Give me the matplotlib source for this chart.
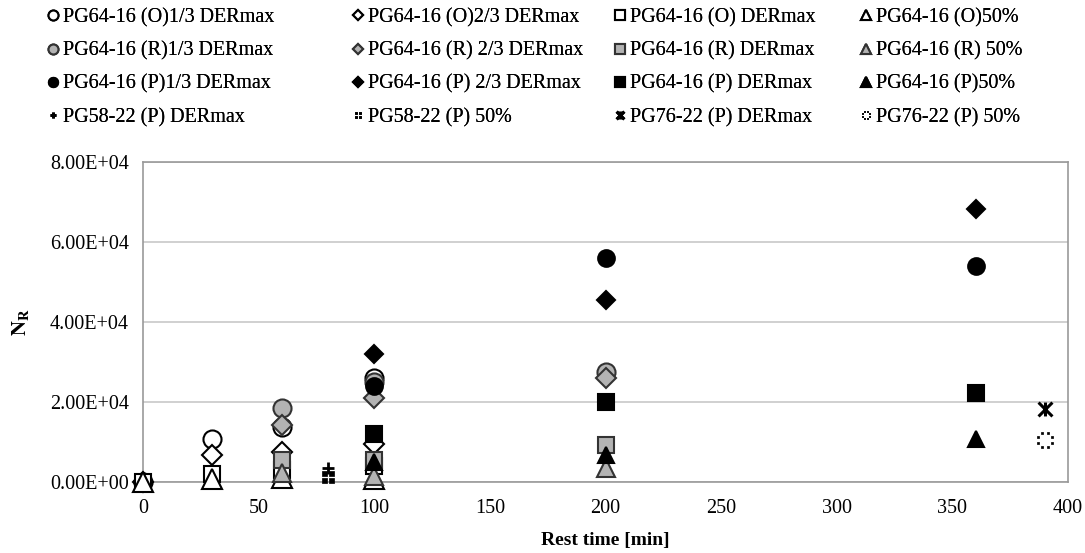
import matplotlib
matplotlib.use("Agg")
import matplotlib.pyplot as plt
from matplotlib.path import Path
from matplotlib.ticker import FuncFormatter, MultipleLocator
import numpy as np

plt.rcParams['font.family'] = ['Liberation Serif', 'DejaVu Serif']
plt.rcParams['mathtext.fontset'] = 'stix'

# ---- data ----
rest_O = [0, 30, 60, 100]
O_13 = [0, 10700, 13800, 26000]
O_23 = [0, 6700, 7500, 9500]
O_max = [0, 2000, 3000, 4000]
O_50 = [0, 800, 1000, 700]

rest_R = [60, 100, 200]
R_13 = [18500, 25000, 27500]
R_23 = [14200, 21000, 26000]
R_max = [5500, 5500, 9200]
R_50 = [2200, 1500, 3500]

rest_P = [100, 200, 360]
P_13 = [24000, 56000, 54000]
P_23 = [32000, 45500, 68300]
P_max = [12000, 20000, 22300]
P_50 = [5000, 6800, 10800]

rest_58 = [80]
B58_max = [3500]
B58_50 = [1200]

rest_76 = [390]
B76_max = [18200]
B76_50 = [10500]

labels = [
    "PG64-16 (O)1/3 DERmax", "PG64-16 (O)2/3 DERmax", "PG64-16 (O) DERmax", "PG64-16 (O)50%",
    "PG64-16 (R)1/3 DERmax", "PG64-16 (R) 2/3 DERmax", "PG64-16 (R) DERmax", "PG64-16 (R) 50%",
    "PG64-16 (P)1/3 DERmax", "PG64-16 (P) 2/3 DERmax", "PG64-16 (P) DERmax", "PG64-16 (P)50%",
    "PG58-22 (P) DERmax", "PG58-22 (P) 50%", "PG76-22 (P) DERmax", "PG76-22 (P) 50%",
]

# ---- custom markers ----
def four_squares():
    verts, codes = [], []
    s = 0.35
    for cx, cy in [(-0.5, 0.5), (0.5, 0.5), (-0.5, -0.5), (0.5, -0.5)]:
        pts = [(cx - s, cy - s), (cx + s, cy - s), (cx + s, cy + s), (cx - s, cy + s), (cx - s, cy - s)]
        verts += pts
        codes += [Path.MOVETO, Path.LINETO, Path.LINETO, Path.LINETO, Path.CLOSEPOLY]
    return Path(verts, codes)

def dotted_circle():
    verts, codes = [], []
    s = 0.14
    for a in np.linspace(0, 2 * np.pi, 8, endpoint=False) + np.pi / 8:
        cx, cy = np.cos(a), np.sin(a)
        pts = [(cx - s, cy - s), (cx + s, cy - s), (cx + s, cy + s), (cx - s, cy + s), (cx - s, cy - s)]
        verts += pts
        codes += [Path.MOVETO, Path.LINETO, Path.LINETO, Path.LINETO, Path.CLOSEPOLY]
    return Path(verts, codes)

def star_marker():
    verts = [(-1, -1), (1, 1), (-1, 1), (1, -1), (0, -1), (0, 1)]
    codes = [Path.MOVETO, Path.LINETO, Path.MOVETO, Path.LINETO, Path.MOVETO, Path.LINETO]
    return Path(verts, codes)

fig = plt.figure(figsize=(10.85, 5.53), dpi=100)
ax = fig.add_axes([143 / 1085, 1 - 482 / 553, (1068 - 143) / 1085, 320 / 553])

gray = "#b3b3b3"
handles = []
big = 13
ew = 1.5

def sc(x, y, marker, face, edge, ms=big, mew=ew, label=None):
    h, = ax.plot(x, y, linestyle='none', marker=marker, markersize=ms,
                 markerfacecolor=face, markeredgecolor=edge, markeredgewidth=mew,
                 label=label, clip_on=False, zorder=3)
    handles.append(h)

sc(rest_O, O_13, 'o', 'white', 'black', label=labels[0])
sc(rest_O, O_23, 'D', 'white', 'black', ms=10, label=labels[1])
sc(rest_O, O_max, 's', 'white', 'black', ms=12, label=labels[2])
sc(rest_O, O_50, '^', 'white', 'black', ms=14, label=labels[3])

sc(rest_R, R_13, 'o', gray, '#333333', label=labels[4])
sc(rest_R, R_23, 'D', gray, '#333333', ms=10, label=labels[5])
sc(rest_R, R_max, 's', gray, '#333333', ms=12, label=labels[6])
sc(rest_R, R_50, '^', gray, '#333333', ms=13, label=labels[7])

sc(rest_P, P_13, 'o', 'black', 'black', ms=12, label=labels[8])
sc(rest_P, P_23, 'D', 'black', 'black', ms=9, label=labels[9])
sc(rest_P, P_max, 's', 'black', 'black', ms=12, label=labels[10])
sc(rest_P, P_50, '^', 'black', 'black', ms=12, label=labels[11])

sc(rest_58, B58_max, '+', 'black', 'black', ms=8, mew=2, label=labels[12])
sc(rest_58, B58_50, four_squares(), 'black', 'black', ms=9, mew=0.5, label=labels[13])
sc(rest_76, B76_max, star_marker(), 'black', 'black', ms=10, mew=2.2, label=labels[14])
sc(rest_76, B76_50, dotted_circle(), 'black', 'black', ms=11, mew=0.5, label=labels[15])

ax.set_xlim(0, 400)
ax.set_ylim(0, 80000)
ax.xaxis.set_major_locator(MultipleLocator(50))
ax.yaxis.set_major_locator(MultipleLocator(20000))
ax.yaxis.set_major_formatter(FuncFormatter(lambda v, p: "%.2E" % v))
ax.grid(axis='y', color='#c8c8c8', linewidth=1.2)
ax.set_axisbelow(True)
for s in ax.spines.values():
    s.set_color('#999999')
    s.set_linewidth(1.2)
ax.tick_params(axis='x', length=0, labelsize=14.5, pad=12, colors='black')
ax.tick_params(axis='y', length=0, labelsize=14.5, pad=10, colors='black')

ax.set_xlabel("Rest time [min]", fontsize=14, fontweight='bold', labelpad=10)
ax.set_ylabel(r"$\mathbf{N_R}$", fontsize=15, labelpad=14)

# legend: one block per column, rows as in the reference
col_x = [47, 352, 614, 860]
for c in range(4):
    idx = [r * 4 + c for r in range(4)]
    lg = fig.legend([handles[i] for i in idx], [labels[i] for i in idx],
                    loc='upper left', bbox_to_anchor=(col_x[c] / 1085, 1 - 8 / 553),
                    frameon=False, fontsize=14.5, markerscale=0.55,
                    handlelength=0.6, handletextpad=0.2, labelspacing=0.7,
                    borderpad=0, borderaxespad=0)
    fig.add_artist(lg)

fig.savefig("out.png", dpi=100)
